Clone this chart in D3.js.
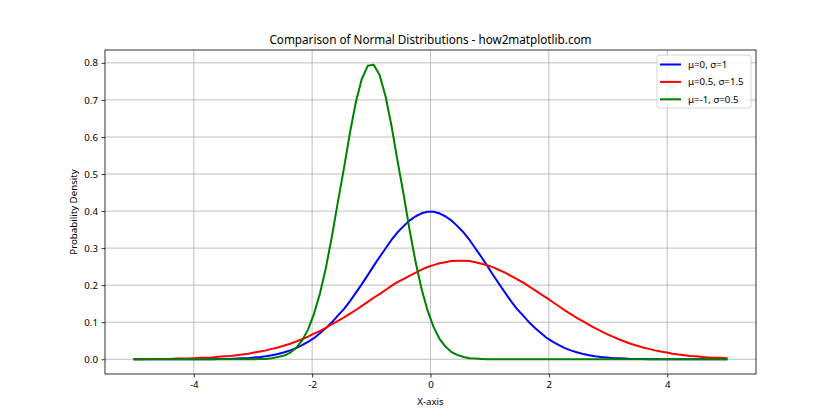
<!DOCTYPE html>
<html>
<head>
<meta charset="utf-8">
<script src="https://cdn.jsdelivr.net/npm/d3@7"></script>
<style>
  body { margin: 0; background: #fff; }
  text { font-family: "Segoe UI", "Noto Sans", "DejaVu Sans", sans-serif; fill: #000; }
</style>
</head>
<body>
<div id="chart"></div>
<script>
// sample grid (100 points from -5 to 5)
var xValues = [
  -5.00, -4.90, -4.80, -4.70, -4.60, -4.49, -4.39, -4.29, -4.19, -4.09,
  -3.99, -3.89, -3.79, -3.69, -3.59, -3.48, -3.38, -3.28, -3.18, -3.08,
  -2.98, -2.88, -2.78, -2.68, -2.58, -2.47, -2.37, -2.27, -2.17, -2.07,
  -1.97, -1.87, -1.77, -1.67, -1.57, -1.46, -1.36, -1.26, -1.16, -1.06,
  -0.96, -0.86, -0.76, -0.66, -0.56, -0.45, -0.35, -0.25, -0.15, -0.05,
  0.05, 0.15, 0.25, 0.35, 0.45, 0.56, 0.66, 0.76, 0.86, 0.96,
  1.06, 1.16, 1.26, 1.36, 1.46, 1.57, 1.67, 1.77, 1.87, 1.97,
  2.07, 2.17, 2.27, 2.37, 2.47, 2.58, 2.68, 2.78, 2.88, 2.98,
  3.08, 3.18, 3.28, 3.38, 3.48, 3.59, 3.69, 3.79, 3.89, 3.99,
  4.09, 4.19, 4.29, 4.39, 4.49, 4.60, 4.70, 4.80, 4.90, 5.00
];

// mu=0, sigma=1
var blueValues = [
  0, 0, 0, 0, 0, 0, 0, 0, 0, 0,
  0, 0, 0, 0, 0.001, 0.001, 0.001, 0.002, 0.003, 0.003,
  0.005, 0.006, 0.008, 0.011, 0.014, 0.019, 0.024, 0.030, 0.038, 0.047,
  0.057, 0.070, 0.084, 0.099, 0.117, 0.136, 0.157, 0.180, 0.203, 0.227,
  0.252, 0.276, 0.299, 0.322, 0.342, 0.360, 0.375, 0.386, 0.394, 0.398,
  0.398, 0.394, 0.386, 0.375, 0.360, 0.342, 0.322, 0.299, 0.276, 0.252,
  0.227, 0.203, 0.180, 0.157, 0.136, 0.117, 0.099, 0.084, 0.070, 0.057,
  0.047, 0.038, 0.030, 0.024, 0.019, 0.014, 0.011, 0.008, 0.006, 0.005,
  0.003, 0.003, 0.002, 0.001, 0.001, 0.001, 0, 0, 0, 0,
  0, 0, 0, 0, 0, 0, 0, 0, 0, 0
];

// mu=0.5, sigma=1.5
var redValues = [
  0.000, 0.000, 0.001, 0.001, 0.001, 0.001, 0.001, 0.002, 0.002, 0.002,
  0.003, 0.004, 0.004, 0.005, 0.007, 0.008, 0.009, 0.011, 0.013, 0.015,
  0.018, 0.021, 0.024, 0.028, 0.032, 0.037, 0.042, 0.048, 0.054, 0.061,
  0.069, 0.076, 0.085, 0.094, 0.103, 0.113, 0.123, 0.133, 0.144, 0.155,
  0.166, 0.176, 0.187, 0.198, 0.208, 0.217, 0.226, 0.234, 0.242, 0.249,
  0.254, 0.259, 0.262, 0.265, 0.266, 0.266, 0.265, 0.262, 0.258, 0.254,
  0.248, 0.241, 0.234, 0.225, 0.216, 0.207, 0.196, 0.186, 0.175, 0.165,
  0.154, 0.143, 0.132, 0.122, 0.112, 0.102, 0.093, 0.084, 0.076, 0.068,
  0.061, 0.054, 0.048, 0.042, 0.037, 0.032, 0.028, 0.024, 0.021, 0.018,
  0.015, 0.013, 0.011, 0.009, 0.008, 0.006, 0.005, 0.004, 0.004, 0.003
];

// mu=-1, sigma=0.5
var greenValues = [
  0, 0, 0, 0, 0, 0, 0, 0, 0, 0,
  0, 0, 0, 0, 0, 0, 0, 0, 0, 0,
  0.000, 0.001, 0.001, 0.003, 0.006, 0.010, 0.018, 0.031, 0.051, 0.080,
  0.122, 0.176, 0.245, 0.328, 0.420, 0.518, 0.612, 0.695, 0.757, 0.792,
  0.795, 0.767, 0.710, 0.631, 0.538, 0.441, 0.346, 0.261, 0.189, 0.132,
  0.088, 0.056, 0.035, 0.020, 0.012, 0.006, 0.003, 0.002, 0.001, 0.000,
  0, 0, 0, 0, 0, 0, 0, 0, 0, 0,
  0, 0, 0, 0, 0, 0, 0, 0, 0, 0,
  0, 0, 0, 0, 0, 0, 0, 0, 0, 0,
  0, 0, 0, 0, 0, 0, 0, 0, 0, 0
];

var seriesNames = ['μ=0, σ=1', 'μ=0.5, σ=1.5', 'μ=-1, σ=0.5'];
var seriesColors = ['#0000ff', '#ff0000', '#008000'];
var xTicks = [-4, -2, 0, 2, 4];
var yTicks = [0.0, 0.1, 0.2, 0.3, 0.4, 0.5, 0.6, 0.7, 0.8];

var width = 840, height = 420;
var margin = { left: 105, right: 84, top: 50, bottom: 46 };
var plotW = width - margin.left - margin.right;
var plotH = height - margin.top - margin.bottom;

var svg = d3.select('#chart').append('svg')
    .attr('width', width).attr('height', height);

var allSeries = [blueValues, redValues, greenValues];
var yMax = d3.max(allSeries, function (s) { return d3.max(s); });
var xMin = d3.min(xValues), xMax = d3.max(xValues);
var xPad = (xMax - xMin) * 0.05, yPad = yMax * 0.05;

var x = d3.scaleLinear().domain([xMin - xPad, xMax + xPad]).range([0, plotW]);
var y = d3.scaleLinear().domain([-yPad, yMax + yPad]).range([plotH, 0]);

var g = svg.append('g').attr('transform', 'translate(' + margin.left + ',' + margin.top + ')');

// grid
g.append('g').selectAll('line').data(xTicks).enter().append('line')
    .attr('x1', function (d) { return x(d); }).attr('x2', function (d) { return x(d); })
    .attr('y1', 0).attr('y2', plotH)
    .attr('stroke', '#b0b0b0').attr('stroke-width', 0.8);
g.append('g').selectAll('line').data(yTicks).enter().append('line')
    .attr('y1', function (d) { return y(d); }).attr('y2', function (d) { return y(d); })
    .attr('x1', 0).attr('x2', plotW)
    .attr('stroke', '#b0b0b0').attr('stroke-width', 0.8);

// curves
var line = d3.line()
    .x(function (d, i) { return x(xValues[i]); })
    .y(function (d) { return y(d); });

allSeries.forEach(function (s, k) {
    g.append('path').datum(s)
        .attr('d', line)
        .attr('fill', 'none')
        .attr('stroke', seriesColors[k])
        .attr('stroke-width', 2)
        .attr('stroke-linejoin', 'round')
        .attr('stroke-linecap', 'square');
});

// axes
var xAxis = g.append('g').attr('transform', 'translate(0,' + plotH + ')')
    .call(d3.axisBottom(x).tickValues(xTicks).tickSize(3.5).tickPadding(3.5)
        .tickFormat(function (d) { return d < 0 ? '\u2212' + Math.abs(d) : d; }));
var yAxis = g.append('g')
    .call(d3.axisLeft(y).tickValues(yTicks).tickSize(3.5).tickPadding(3.5)
        .tickFormat(d3.format('.1f')));
[xAxis, yAxis].forEach(function (a) {
    a.select('.domain').remove();
    a.selectAll('.tick line').attr('stroke', '#000').attr('stroke-width', 0.8);
    a.selectAll('.tick text').attr('font-size', '9.7px').attr('font-family', null);
});
xAxis.selectAll('.tick text').text(function (d) { return d < 0 ? '-' + Math.abs(d) : d; });

// frame
g.append('rect').attr('x', 0).attr('y', 0).attr('width', plotW).attr('height', plotH)
    .attr('fill', 'none').attr('stroke', '#000').attr('stroke-width', 0.8);

// title and labels
svg.append('text').attr('x', margin.left + plotW / 2).attr('y', 44)
    .attr('text-anchor', 'middle').attr('font-size', '11.7px')
    .text('Comparison of Normal Distributions - how2matplotlib.com');
svg.append('text').attr('x', margin.left + plotW / 2).attr('y', 405)
    .attr('text-anchor', 'middle').attr('font-size', '9.7px')
    .text('X-axis');
svg.append('text')
    .attr('transform', 'translate(77,' + (margin.top + plotH / 2) + ') rotate(-90)')
    .attr('text-anchor', 'middle').attr('font-size', '9.7px')
    .text('Probability Density');

// legend
var legend = svg.append('g').attr('transform', 'translate(657,55)');
legend.append('rect').attr('width', 94).attr('height', 53).attr('rx', 2)
    .attr('fill', '#fff').attr('fill-opacity', 0.8)
    .attr('stroke', '#cccccc').attr('stroke-width', 0.8);
seriesNames.forEach(function (name, k) {
    var row = legend.append('g').attr('transform', 'translate(0,' + (9.5 + k * 17.4) + ')');
    row.append('line').attr('x1', 3).attr('x2', 24).attr('y1', 0).attr('y2', 0)
        .attr('stroke', seriesColors[k]).attr('stroke-width', 2);
    row.append('text').attr('x', 31).attr('y', 0).attr('dy', '0.35em')
        .attr('font-size', '9.7px').text(name);
});
</script>
</body>
</html>
